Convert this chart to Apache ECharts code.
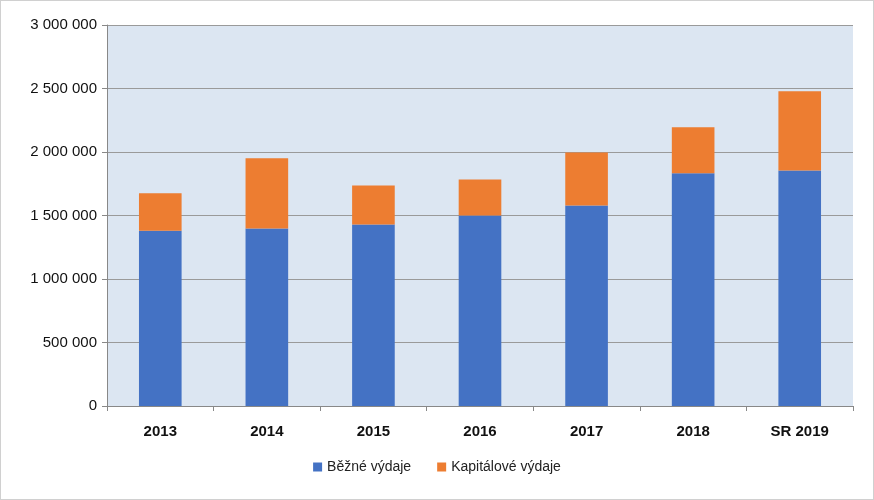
<!DOCTYPE html>
<html><head><meta charset="utf-8">
<script src="https://cdn.jsdelivr.net/npm/echarts@6/dist/echarts.min.js"></script>
<style>html,body{margin:0;padding:0;background:#fff}#c{width:872px;height:498px;border:1px solid #d0d0d0}</style>
</head><body><div id="c"></div>
<script>
const categories = ['2013','2014','2015','2016','2017','2018','SR 2019'];
const bezne = [1380000,1397000,1429000,1500000,1579000,1832000,1855000];
const kapitalove = [295000,553000,308000,284000,418000,363000,624000];
const yTicks = [0,500000,1000000,1500000,2000000,2500000,3000000];
const fmt = v => String(v).replace(/\B(?=(\d{3})+(?!\d))/g,' ');
const chart = echarts.init(document.getElementById('c'));
chart.setOption({
  animation:false,
  textStyle:{fontFamily:'Liberation Sans, Arial, sans-serif'},
  grid:{left:106,right:20,top:24,bottom:93,backgroundColor:'#dce6f2',show:true,borderWidth:0},
  legend:{bottom:20,left:'center',itemWidth:9,itemHeight:9,itemGap:26,icon:'rect',
    textStyle:{fontSize:14,color:'#222'},data:['Běžné výdaje','Kapitálové výdaje']},
  xAxis:{type:'category',data:categories,
    axisLine:{lineStyle:{color:'#888'}},axisTick:{show:true,length:5,lineStyle:{color:'#888'}},
    axisLabel:{fontSize:15,fontWeight:'bold',color:'#111',margin:18}},
  yAxis:{type:'value',min:yTicks[0],max:yTicks[yTicks.length-1],interval:500000,
    axisLine:{show:true,lineStyle:{color:'#888'}},axisTick:{show:true,length:5,lineStyle:{color:'#888'}},
    splitLine:{lineStyle:{color:'#9a9a9a'}},
    axisLabel:{fontSize:15,color:'#111',margin:10,formatter:fmt}},
  series:[
    {name:'Běžné výdaje',type:'bar',stack:'a',data:bezne,barWidth:'40%',itemStyle:{color:'#4472c4'}},
    {name:'Kapitálové výdaje',type:'bar',stack:'a',data:kapitalove,barWidth:'40%',itemStyle:{color:'#ed7d31'}}
  ]
});
</script></body></html>
